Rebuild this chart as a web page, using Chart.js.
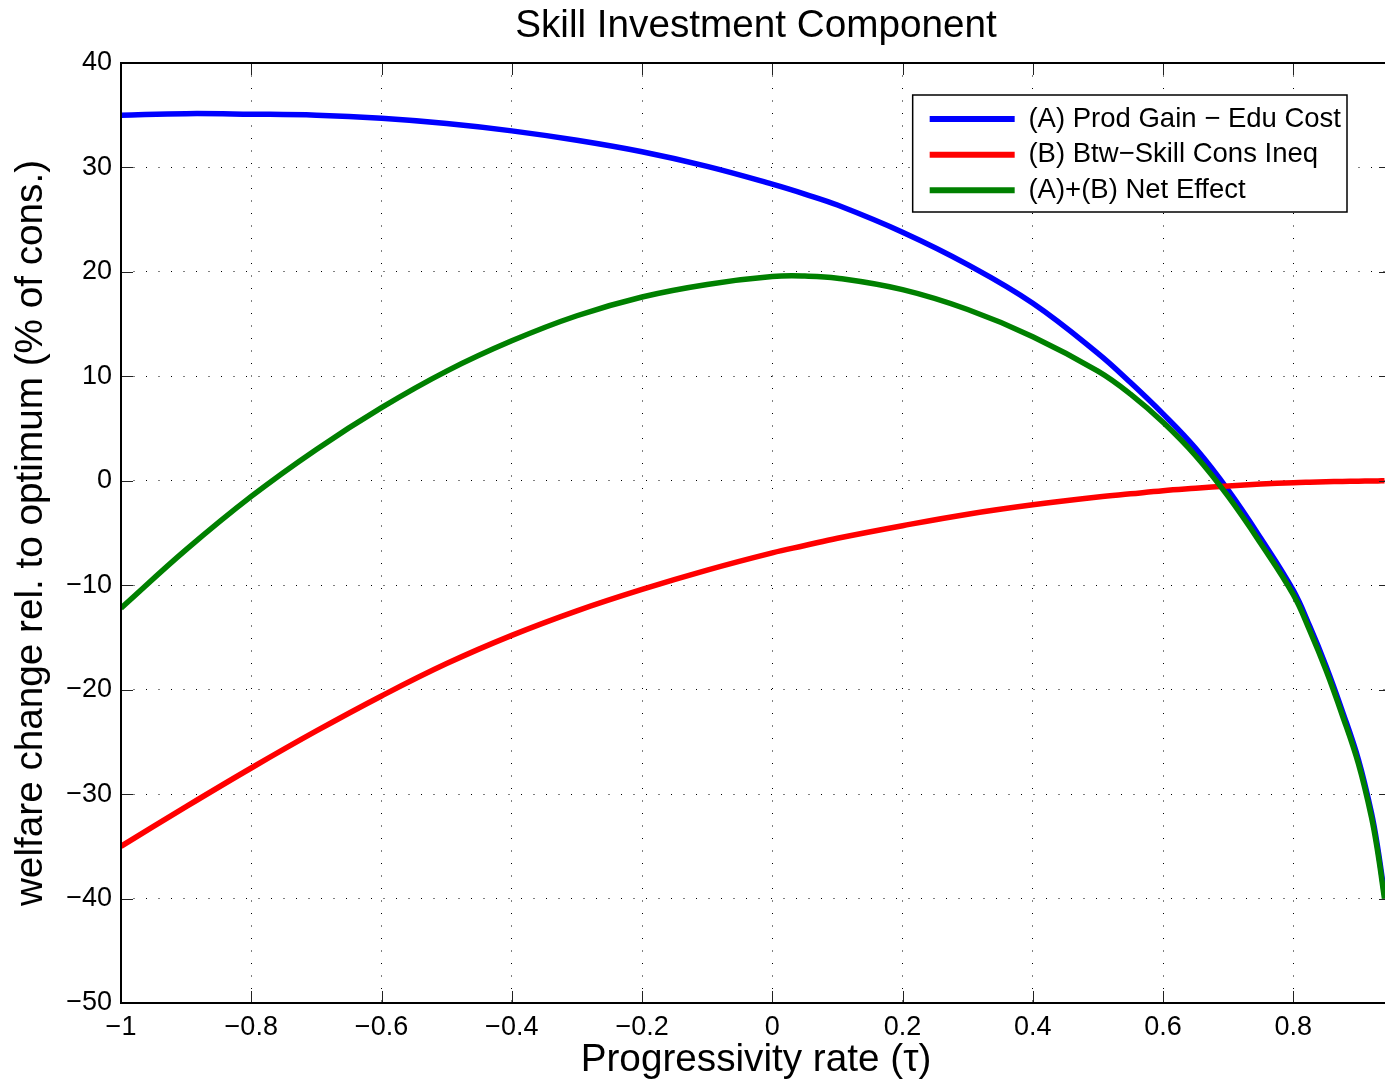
<!DOCTYPE html>
<html>
<head>
<meta charset="utf-8">
<title>Skill Investment Component</title>
<script src="https://cdn.jsdelivr.net/npm/chart.js@4.4.1/dist/chart.umd.min.js"></script>
<style>
    html, body { margin: 0; padding: 0; background: #fff; overflow: hidden; }
    /* the axes run a few pixels past the right edge of the picture */
    #wrap { width: 1391px; height: 1088px; }
</style>
</head>
<body>
<div id="wrap"><canvas id="chart"></canvas></div>
<script>
// progressivity rate (x)
const tau = [-1, -0.9, -0.8, -0.7, -0.6, -0.5, -0.4, -0.3, -0.2, -0.1,
    0, 0.05, 0.1, 0.2, 0.3, 0.4, 0.5, 0.55, 0.6, 0.65, 0.7, 0.75,
    0.8, 0.825, 0.85, 0.875, 0.9, 0.92, 0.93, 0.94];

// (A) Prod Gain - Edu Cost
const prodGain = [35.0, 35.15, 35.1, 35.0, 34.7, 34.2, 33.5, 32.6, 31.5, 30.1,
    28.4, 27.45, 26.4, 23.8, 20.7, 17.0, 12.2, 9.4, 6.4, 3.1, -0.9, -5.5,
    -10.5, -13.9, -17.7, -22.0, -26.7, -31.8, -35.3, -39.6];

// (B) Btw-Skill Cons Ineq
const consIneq = [-35.0, -31.2, -27.5, -23.95, -20.6, -17.5, -14.8, -12.45, -10.4, -8.55,
    -6.9, -6.2, -5.5, -4.3, -3.2, -2.3, -1.55, -1.25, -0.95, -0.72, -0.5, -0.32,
    -0.18, -0.13, -0.09, -0.06, -0.04, -0.02, -0.01, 0];

// (A)+(B) Net Effect
const netEffect = [-12.2, -6.6, -1.5, 3.0, 7.0, 10.5, 13.4, 15.8, 17.6, 18.8,
    19.55, 19.6, 19.4, 18.3, 16.4, 13.8, 10.5, 8.3, 5.6, 2.4, -1.5, -6.0,
    -10.9, -14.3, -18.1, -22.4, -27.1, -32.2, -35.7, -40.0];

const xTicks = [-1, -0.8, -0.6, -0.4, -0.2, 0, 0.2, 0.4, 0.6, 0.8];
const yTicks = [-50, -40, -30, -20, -10, 0, 10, 20, 30, 40];

const minus = (v) => String(v).replace('-', '\u2212');
const toPoints = (ys) => tau.map((t, i) => ({x: t, y: ys[i]}));

Chart.defaults.font.family = '"Liberation Sans", Arial, Helvetica, sans-serif';
Chart.defaults.color = '#000';

// matlab style box with inward ticks on all four sides
const axesBox = {
    id: 'axesBox',
    afterDatasetsDraw(chart) {
        const {ctx, chartArea: a, scales: {x, y}} = chart;
        const len = 12;
        ctx.save();
        ctx.strokeStyle = '#222';
        ctx.lineWidth = 1;
        ctx.beginPath();
        xTicks.forEach((v) => {
            const px = Math.round(x.getPixelForValue(v)) + 0.5;
            ctx.moveTo(px, a.bottom); ctx.lineTo(px, a.bottom - len);
            ctx.moveTo(px, a.top); ctx.lineTo(px, a.top + len);
        });
        yTicks.forEach((v) => {
            const py = Math.round(y.getPixelForValue(v)) + 0.5;
            ctx.moveTo(a.left, py); ctx.lineTo(a.left + len, py);
            ctx.moveTo(a.right, py); ctx.lineTo(a.right - len, py);
        });
        ctx.stroke();
        ctx.strokeStyle = '#000';
        ctx.lineWidth = 2;
        ctx.strokeRect(a.left, a.top, a.right - a.left, a.bottom - a.top);
        ctx.restore();
    }
};

// put the legend in the top right corner of the axes, inside a framed white box
const legendBox = {
    id: 'legendBox',
    beforeLayout(chart) {
        const lg = chart.legend;
        if (lg && !lg._boxed) {
            lg._boxed = true;
            lg._layers = () => [{
                z: 1,
                draw(area) {
                    const f = lg._frame;
                    if (f) {
                        const ctx = chart.ctx;
                        ctx.save();
                        ctx.fillStyle = '#fff';
                        ctx.fillRect(f.left, f.top, f.right - f.left, f.bottom - f.top);
                        ctx.strokeStyle = '#000';
                        ctx.lineWidth = 1.5;
                        ctx.strokeRect(f.left, f.top, f.right - f.left, f.bottom - f.top);
                        ctx.restore();
                    }
                    lg.draw(area);
                }
            }];
        }
    },
    afterLayout(chart) {
        const lg = chart.legend;
        const a = chart.chartArea;
        const pad = lg.options.labels.padding;
        const widest = Math.max(...lg.legendHitBoxes.map((b) => b.width));
        const right = a.right - 44;
        const left = right - 6 - widest - 17;
        lg._frame = {left: left, top: a.top + 32, right: right, bottom: a.top + 149};
        lg.left = left + 17 - pad;
        lg.top = a.top + 34;
        lg.right = lg.left + lg.width;
        lg.bottom = lg.top + lg.height;
    }
};

const config = {
    type: 'line',
    data: {
        datasets: [{
            label: '(A) Prod Gain \u2212 Edu Cost',
            data: toPoints(prodGain),
            borderColor: '#0000ff',
            backgroundColor: '#0000ff',
            order: 2
        }, {
            label: '(B) Btw\u2212Skill Cons Ineq',
            data: toPoints(consIneq),
            borderColor: '#ff0000',
            backgroundColor: '#ff0000',
            order: 1
        }, {
            label: '(A)+(B) Net Effect',
            data: toPoints(netEffect),
            borderColor: '#008000',
            backgroundColor: '#008000',
            order: 0
        }]
    },
    options: {
        responsive: true,
        maintainAspectRatio: false,
        animation: false,
        events: [],
        layout: {autoPadding: false, padding: 0},
        elements: {
            line: {borderWidth: 5.5, tension: 0.4, fill: false},
            point: {radius: 0}
        },
        scales: {
            x: {
                type: 'linear',
                min: -1,
                max: 0.95,
                afterBuildTicks: (scale) => { scale.ticks = xTicks.map((v) => ({value: v})); },
                afterFit: (scale) => { scale.height = 85; },
                ticks: {padding: 8, font: {size: 27}, color: '#000', callback: minus},
                grid: {color: '#000', lineWidth: 1, drawTicks: false},
                border: {display: false, dash: [1, 11.5]},
                title: {
                    display: true,
                    text: 'Progressivity rate (\u03c4)',
                    font: {size: 38.7},
                    color: '#000',
                    padding: {top: 0, bottom: 4}
                }
            },
            y: {
                min: -50,
                max: 40,
                afterBuildTicks: (scale) => { scale.ticks = yTicks.map((v) => ({value: v})); },
                afterFit: (scale) => { scale.width = 121; },
                ticks: {padding: 9, font: {size: 27}, color: '#000', callback: minus},
                grid: {color: '#000', lineWidth: 1, drawTicks: false},
                border: {display: false, dash: [1, 11.5]},
                title: {
                    display: true,
                    text: 'welfare change rel. to optimum (% of cons.)',
                    font: {size: 38.7},
                    color: '#000',
                    padding: {top: 8, bottom: 0}
                }
            }
        },
        plugins: {
            title: {
                display: true,
                fullSize: false,
                text: 'Skill Investment Component',
                color: '#000',
                font: {size: 38.7, weight: 'normal'},
                padding: {top: 3.5, bottom: 13.06}
            },
            legend: {
                position: 'chartArea',
                align: 'start',
                labels: {
                    font: {size: 27.5},
                    color: '#000',
                    boxWidth: 85,
                    boxHeight: 6,
                    padding: 8.2,
                    sort: (a, b) => a.datasetIndex - b.datasetIndex,
                    generateLabels: (chart) => Chart.defaults.plugins.legend.labels.generateLabels(chart)
                        .map((item) => Object.assign(item, {lineWidth: 0}))
                }
            },
            tooltip: {enabled: false}
        }
    },
    plugins: [axesBox, legendBox]
};

const chart = new Chart(document.getElementById('chart'), config);
</script>
</body>
</html>
